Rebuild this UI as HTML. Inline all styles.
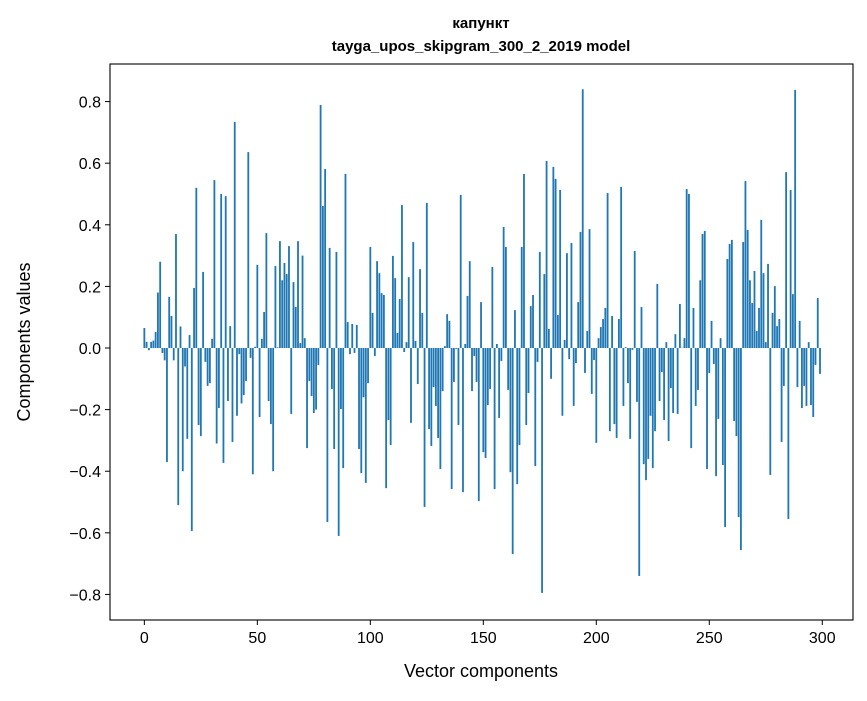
<!DOCTYPE html>
<html><head><meta charset="utf-8"><style>
body{margin:0;background:#fff;}
svg text{font-family:"Liberation Sans","DejaVu Sans",sans-serif;fill:#000;}
</style></head><body>
<svg id="chart" width="867" height="696" viewBox="0 0 867 696" xmlns="http://www.w3.org/2000/svg">
<rect width="867" height="696" fill="#fff"/>
<text x="481" y="28" text-anchor="middle" font-size="15" font-weight="bold">капункт</text>
<text x="481" y="51" text-anchor="middle" font-size="15" font-weight="bold">tayga_upos_skipgram_300_2_2019 model</text>
<g id="bars"></g>
<g id="axes"></g>
<text x="481" y="677" text-anchor="middle" font-size="18">Vector components</text>
<text transform="translate(30,342) rotate(-90)" text-anchor="middle" font-size="18">Components values</text>
</svg>
<script>
const values = [
0.065,0.02,-0.007,0.02,0.024,0.052,0.18,0.28,-0.016,-0.04,
-0.37,0.166,0.104,-0.04,0.37,-0.51,0.07,-0.40,-0.06,-0.295,
0.042,-0.594,0.195,0.52,-0.25,-0.286,0.247,-0.045,-0.123,-0.114,
0.03,0.545,-0.31,-0.195,0.50,-0.373,0.493,-0.172,0.071,-0.305,
0.734,-0.22,-0.02,-0.18,-0.153,-0.107,0.636,-0.032,-0.41,0.004,
0.27,-0.224,0.03,0.117,0.373,-0.172,-0.247,-0.40,0.266,0.002,
0.347,0.22,0.276,0.24,0.331,-0.214,0.214,0.133,0.347,0.016,
0.30,0.032,-0.325,-0.107,-0.156,-0.211,-0.20,-0.055,0.789,0.461,
0.581,-0.565,0.325,-0.133,-0.328,0.312,-0.61,-0.198,-0.39,0.565,
0.084,-0.02,0.078,-0.016,0.075,-0.328,-0.406,-0.16,-0.438,-0.114,
0.328,0.114,-0.026,0.282,0.243,0.178,0.172,-0.455,-0.234,-0.315,
0.299,0.227,0.049,0.159,0.464,-0.013,0.019,0.23,-0.243,0.344,
0.023,-0.117,0.256,0.114,-0.516,0.471,-0.263,-0.318,-0.127,-0.188,
-0.292,-0.393,-0.14,0.006,0.11,0.088,-0.458,-0.11,-0.003,-0.25,
0.497,-0.468,0.013,0.169,0.282,-0.14,-0.026,-0.11,-0.497,0.149,
-0.338,-0.357,-0.185,-0.133,0.263,-0.458,0.013,-0.227,-0.042,0.393,
0.328,-0.136,-0.403,-0.669,0.123,-0.442,-0.315,0.328,0.565,-0.25,
-0.146,0.136,0.172,-0.383,-0.045,0.312,-0.795,0.24,0.607,0.062,
-0.10,0.588,0.549,0.107,0.513,-0.22,0.026,0.308,-0.036,0.341,
-0.188,-0.049,0.149,0.377,0.84,-0.081,0.055,0.386,-0.149,-0.039,
-0.308,0.032,0.068,0.094,0.13,0.503,-0.27,0.104,-0.247,-0.292,
0.094,0.523,-0.188,0.003,-0.114,-0.295,-0.006,0.315,-0.175,-0.74,
0.133,-0.377,-0.429,-0.36,-0.22,-0.39,-0.27,0.208,-0.172,-0.078,
-0.234,0.019,-0.302,-0.13,-0.211,0.045,-0.214,0.143,0.001,0.032,
0.516,0.50,-0.325,0.13,-0.188,-0.136,0.22,0.37,0.38,-0.393,
-0.081,0.088,-0.052,-0.416,-0.23,0.032,-0.38,-0.581,0.289,0.338,
0.351,-0.237,-0.286,-0.549,-0.656,0.344,0.542,0.383,0.22,0.146,
0.25,0.055,0.13,0.416,0.243,0.019,0.273,-0.412,0.114,0.201,
0.071,0.094,-0.305,-0.123,0.571,-0.555,0.513,0.175,0.838,-0.127,
0.088,-0.195,-0.123,-0.188,0.019,-0.185,-0.224,-0.055,0.162,-0.084
];
const xTicks = [0,50,100,150,200,250,300];
const yTicks = [-0.8,-0.6,-0.4,-0.2,0.0,0.2,0.4,0.6,0.8];
const yTickLabels = ["\u22120.8","\u22120.6","\u22120.4","\u22120.2","0.0","0.2","0.4","0.6","0.8"];

const NS="http://www.w3.org/2000/svg";
const L=110,R=853,T=64,B=620;
const xMin=-15.2,xMax=313.6,yMin=-0.883,yMax=0.922;
function xs(v){return L+(v-xMin)/(xMax-xMin)*(R-L);}
function ys(v){return T+(yMax-v)/(yMax-yMin)*(B-T);}
const bars=document.getElementById('bars');
values.forEach((v,i)=>{
  const r=document.createElementNS(NS,'rect');
  const x0=xs(i-0.4),x1=xs(i+0.4);
  const y0=ys(Math.max(v,0)),y1=ys(Math.min(v,0));
  r.setAttribute('x',x0);r.setAttribute('width',x1-x0);
  r.setAttribute('y',y0);r.setAttribute('height',Math.max(y1-y0,0.01));
  r.setAttribute('fill','#1f77b4');
  
  
  bars.appendChild(r);
});
const axes=document.getElementById('axes');
const frame=document.createElementNS(NS,'rect');
frame.setAttribute('x',L);frame.setAttribute('y',T);
frame.setAttribute('width',R-L);frame.setAttribute('height',B-T);
frame.setAttribute('fill','none');frame.setAttribute('stroke','#000');frame.setAttribute('stroke-width','1.1');


axes.appendChild(frame);
xTicks.forEach(t=>{
  const x=xs(t);
  const l=document.createElementNS(NS,'line');
  l.setAttribute('x1',x);l.setAttribute('x2',x);l.setAttribute('y1',B);l.setAttribute('y2',B+5);
  l.setAttribute('stroke','#000');
  
  
  axes.appendChild(l);
  const tx=document.createElementNS(NS,'text');
  tx.setAttribute('x',x);tx.setAttribute('y',B+23);tx.setAttribute('text-anchor','middle');tx.setAttribute('font-size','16');
  tx.textContent=t;
  
  
  axes.appendChild(tx);
});
yTicks.forEach((t,k)=>{
  const y=ys(t);
  const l=document.createElementNS(NS,'line');
  l.setAttribute('x1',L-5);l.setAttribute('x2',L);l.setAttribute('y1',y);l.setAttribute('y2',y);
  l.setAttribute('stroke','#000');
  
  
  axes.appendChild(l);
  const tx=document.createElementNS(NS,'text');
  tx.setAttribute('x',L-9);tx.setAttribute('y',y+6);tx.setAttribute('text-anchor','end');tx.setAttribute('font-size','16');
  tx.textContent=yTickLabels[k];
  
  
  axes.appendChild(tx);
});
</script>
</body></html>
